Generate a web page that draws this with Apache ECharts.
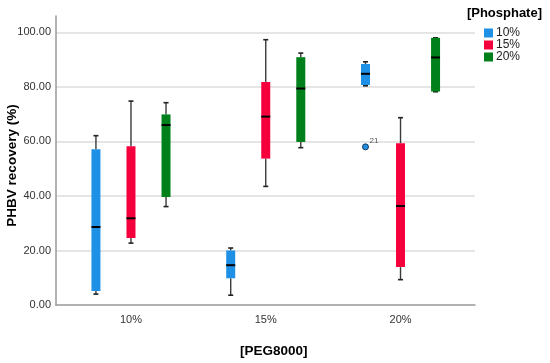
<!DOCTYPE html>
<html>
<head>
<meta charset="utf-8">
<script src="https://cdn.jsdelivr.net/npm/echarts@6/dist/echarts.min.js"></script>
<style>html,body{margin:0;padding:0;background:#fff}#c{width:550px;height:363px}</style>
</head>
<body>
<div id="c"></div>
<script>
// PEG8000 categories on x axis
const categories = ['10%', '15%', '20%'];
// Phosphate levels (series)
const seriesNames = ['10%', '15%', '20%'];
const seriesColors = ['#1e90e6', '#f5003c', '#00801a'];
// Box statistics per PEG8000 category: [min, Q1, median, Q3, max]
const phosphate10 = [[4.0, 5.1, 28.6, 57.1, 62.1], [3.6, 9.8, 14.6, 20.0, 20.9], [80.4, 80.7, 84.8, 88.4, 89.2]];
const phosphate15 = [[22.7, 24.6, 31.8, 58.2, 74.8], [43.5, 53.7, 69.1, 81.8, 97.3], [9.3, 13.9, 36.3, 59.3, 68.7]];
const phosphate20 = [[36.1, 39.6, 66.0, 69.9, 74.2], [57.7, 59.8, 79.4, 90.9, 92.4], [78.2, 78.3, 90.8, 98.0, 98.0]];
// Outliers: [category index, series index, value, case label]
const outliers = [[2, 0, 58.0, '21']];
const yTicks = [0, 20, 40, 60, 80, 100];

const allStats = [phosphate10, phosphate15, phosphate20];
const FONT = '"Liberation Sans", Arial, sans-serif';

function makeBoxSeries(si) {
  const data = allStats[si].map((s, ci) => [ci].concat(s));
  return {
    type: 'custom',
    name: seriesNames[si],
    xAxisIndex: 1, yAxisIndex: 1,
    itemStyle: { color: seriesColors[si] },
    encode: { x: 0, y: [1, 2, 3, 4, 5] },
    data: data,
    z: 3,
    renderItem: function (params, api) {
      const band = api.size([1, 0])[0];
      const off = (si - 1) * band * 0.26;
      const cx = api.coord([api.value(0), 0])[0] + off;
      const yMin = api.coord([0, api.value(1)])[1];
      const yQ1 = api.coord([0, api.value(2)])[1];
      const yMed = api.coord([0, api.value(3)])[1];
      const yQ3 = api.coord([0, api.value(4)])[1];
      const yMax = api.coord([0, api.value(5)])[1];
      const bw = 9, cap = 5;
      const wStyle = { stroke: '#3a3a3a', lineWidth: 1.4 };
      const cStyle = { stroke: '#222', lineWidth: 1.6 };
      return {
        type: 'group',
        children: [
          { type: 'line', shape: { x1: cx, y1: yMin, x2: cx, y2: yQ1 }, style: wStyle },
          { type: 'line', shape: { x1: cx, y1: yQ3, x2: cx, y2: yMax }, style: wStyle },
          { type: 'line', shape: { x1: cx - cap / 2, y1: yMin, x2: cx + cap / 2, y2: yMin }, style: cStyle },
          { type: 'line', shape: { x1: cx - cap / 2, y1: yMax, x2: cx + cap / 2, y2: yMax }, style: cStyle },
          { type: 'rect', shape: { x: cx - bw / 2, y: yQ3, width: bw, height: yQ1 - yQ3 }, style: { fill: seriesColors[si] } },
          { type: 'line', shape: { x1: cx - bw / 2, y1: yMed, x2: cx + bw / 2, y2: yMed }, style: { stroke: '#000', lineWidth: 2 } }
        ]
      };
    }
  };
}

const outlierSeries = {
  type: 'custom',
  name: 'outliers',
  xAxisIndex: 1, yAxisIndex: 1,
  encode: { x: 0, y: 2 },
  data: outliers,
  z: 4,
  renderItem: function (params, api) {
    const band = api.size([1, 0])[0];
    const si = api.value(1);
    const off = (si - 1) * band * 0.26;
    const p = api.coord([api.value(0), api.value(2)]);
    const cx = p[0] + off;
    return {
      type: 'group',
      children: [
        { type: 'circle', shape: { cx: cx, cy: p[1], r: 3 }, style: { fill: seriesColors[si], stroke: '#1a3a5a', lineWidth: 1 } },
        { type: 'text', x: cx + 4, y: p[1] - 10, style: { text: outliers[params.dataIndex][3], fill: '#555', font: '8px ' + FONT } }
      ]
    };
  }
};

const chart = echarts.init(document.getElementById('c'), null, { renderer: 'canvas' });
chart.setOption({
  animation: false,
  backgroundColor: '#fff',
  textStyle: { fontFamily: FONT },
  title: {
    text: '[Phosphate]',
    right: 3, top: 2,
    textStyle: { fontSize: 13, fontWeight: 'bold', color: '#000', fontFamily: FONT }
  },
  legend: {
    data: seriesNames.map((n, i) => ({ name: n, itemStyle: { color: seriesColors[i] } })),
    orient: 'vertical',
    left: 479, top: 22,
    itemWidth: 9, itemHeight: 9, itemGap: 0,
    icon: 'rect',
    textStyle: { fontSize: 12, lineHeight: 11, color: '#222', padding: [0, 0, 0, -2] }
  },
  grid: [
    { left: 56, right: 75, top: 16, bottom: 58, containLabel: false, outerBoundsMode: 'none' },
    { left: 63.6, right: 82.1, top: 16, bottom: 58, containLabel: false, outerBoundsMode: 'none' }
  ],
  xAxis: [
    {
      gridIndex: 0,
      type: 'category',
      data: categories,
      axisLine: { lineStyle: { color: '#999', width: 1.5 } },
      axisTick: { show: false },
      axisLabel: { show: false },
      splitLine: { show: false }
    },
    {
      gridIndex: 1,
      type: 'category',
      data: categories,
      name: '[PEG8000]',
      nameLocation: 'middle',
      nameGap: 39,
      nameMoveOverlap: false,
      nameTextStyle: { fontSize: 13.5, fontWeight: 'bold', color: '#000', padding: [0, 0, 0, 16] },
      axisLine: { show: false },
      axisTick: { show: false },
      axisLabel: { fontSize: 11, color: '#333', margin: 9 },
      splitLine: { show: false }
    }
  ],
  yAxis: [
    {
      gridIndex: 0,
      type: 'value',
      min: 0, max: 106, interval: 20,
      name: 'PHBV recovery (%)',
      nameLocation: 'middle',
      nameGap: 37,
      nameMoveOverlap: false,
      nameTextStyle: { fontSize: 13.5, fontWeight: 'bold', color: '#000', padding: [0, 10, 0, 0] },
      axisLine: { show: true, lineStyle: { color: '#999', width: 1.5 } },
      axisTick: { show: false },
      axisLabel: {
        fontSize: 11, color: '#333', margin: 5, showMaxLabel: false,
        formatter: v => (yTicks.indexOf(v) >= 0 ? v.toFixed(2) : '')
      },
      splitLine: { show: true, showMaxLine: false, showMinLine: false, lineStyle: { color: '#dcdcdc', width: 1.5 } }
    },
    {
      gridIndex: 1,
      type: 'value',
      min: 0, max: 106, interval: 20,
      show: false
    }
  ],
  series: [makeBoxSeries(0), makeBoxSeries(1), makeBoxSeries(2), outlierSeries]
});
</script>
</body>
</html>
